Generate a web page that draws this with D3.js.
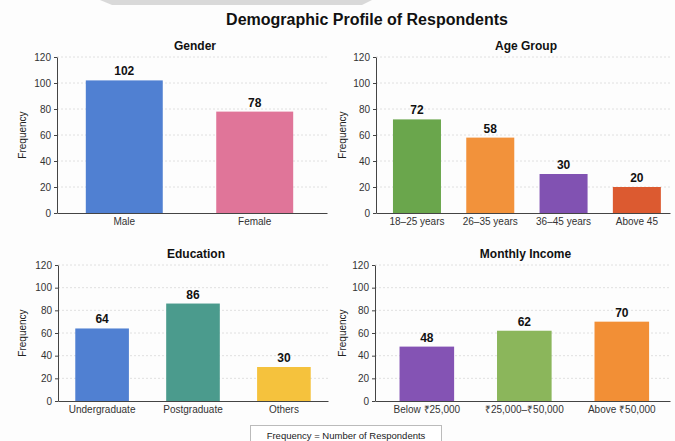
<!DOCTYPE html>
<html>
<head>
<meta charset="utf-8">
<script src="https://cdn.jsdelivr.net/npm/d3@7"></script>
<style>
  body { margin: 0; background: #fdfdfd; }
  svg { display: block; font-family: "Liberation Sans", Arial, sans-serif; }
  .grid line { stroke: #e0e0e0; stroke-dasharray: 2,2; }
  .axis path, .axis line { stroke: #444; }
  .axis text { fill: #333; }
</style>
</head>
<body>
<div id="chart"></div>
<script>
// data
var yTicks = [0, 20, 40, 60, 80, 100, 120];

var genderCats = ["Male", "Female"];
var genderVals = [102, 78];

var ageCats = ["18\u201325 years", "26\u201335 years", "36\u201345 years", "Above 45"];
var ageVals = [72, 58, 30, 20];

var eduCats = ["Undergraduate", "Postgraduate", "Others"];
var eduVals = [64, 86, 30];

var incomeCats = ["Below \u20b925,000", "\u20b925,000\u2013\u20b950,000", "Above \u20b950,000"];
var incomeVals = [48, 62, 70];

var W = 675, H = 441;

var svg = d3.select("#chart").append("svg")
	.attr("width", W)
	.attr("height", H);

svg.append("rect").attr("width", W).attr("height", H).attr("fill", "#fdfdfd");

// faint banner at the very top
svg.append("path")
	.attr("d", "M100,0 L372,0 L362,5 L112,5 Z")
	.attr("fill", "#d9d9d9");

svg.append("text")
	.attr("x", 367)
	.attr("y", 25)
	.attr("text-anchor", "middle")
	.style("font-size", "16px")
	.style("font-weight", "bold")
	.attr("fill", "#111")
	.text("Demographic Profile of Respondents");

var panels = [
	{ title: "Gender", cats: genderCats, vals: genderVals,
	  colors: ["#5080d2", "#e07599"],
	  x0: 57, x1: 327, y0: 213, y1: 57, pi: 0.41, po: 0.24, align: 0.46, labX: 22 },
	{ title: "Age Group", cats: ageCats, vals: ageVals,
	  colors: ["#6aa64c", "#f2923b", "#8152b2", "#dc5a30"],
	  x0: 376, x1: 670, y0: 213, y1: 57, pi: 0.345, po: 0.178, align: 0.65, labX: 342 },
	{ title: "Education", cats: eduCats, vals: eduVals,
	  colors: ["#5080d2", "#4b9b8d", "#f5c23d"],
	  x0: 58, x1: 328, y0: 401, y1: 265, pi: 0.41, po: 0.19, align: 0.5, labX: 22 },
	{ title: "Monthly Income", cats: incomeCats, vals: incomeVals,
	  colors: ["#8453b4", "#8bb65b", "#f28f36"],
	  x0: 375, x1: 670, y0: 401, y1: 265, pi: 0.44, po: 0.233, align: 0.54, labX: 342 }
];

panels.forEach(function(p) {
	var x = d3.scaleBand()
		.domain(p.cats)
		.range([p.x0, p.x1])
		.paddingInner(p.pi)
		.paddingOuter(p.po)
		.align(p.align);
	var y = d3.scaleLinear()
		.domain([0, 120])
		.range([p.y0, p.y1]);

	var g = svg.append("g");

	// gridlines
	g.append("g")
		.attr("class", "grid")
		.selectAll("line")
		.data(yTicks.slice(1))
		.enter().append("line")
		.attr("x1", p.x0)
		.attr("x2", p.x1)
		.attr("y1", function(d) { return y(d); })
		.attr("y2", function(d) { return y(d); });

	g.selectAll(".bar")
		.data(p.vals)
		.enter().append("rect")
		.attr("class", "bar")
		.attr("x", function(d, i) { return x(p.cats[i]); })
		.attr("width", x.bandwidth())
		.attr("y", function(d) { return y(d); })
		.attr("height", function(d) { return y(0) - y(d); })
		.attr("fill", function(d, i) { return p.colors[i]; });

	g.selectAll(".val")
		.data(p.vals)
		.enter().append("text")
		.attr("class", "val")
		.attr("x", function(d, i) { return x(p.cats[i]) + x.bandwidth() / 2; })
		.attr("y", function(d) { return y(d) - 5; })
		.attr("text-anchor", "middle")
		.style("font-size", "12px")
		.style("font-weight", "bold")
		.attr("fill", "#111")
		.text(function(d) { return d; });

	var yAxis = g.append("g")
		.attr("class", "axis")
		.attr("transform", "translate(" + p.x0 + ",0)")
		.call(d3.axisLeft(y).tickValues(yTicks).tickSize(3).tickSizeOuter(0));
	yAxis.selectAll("text").style("font-size", "10px");

	var xAxis = g.append("g")
		.attr("class", "axis")
		.attr("transform", "translate(0," + p.y0 + ")")
		.call(d3.axisBottom(x).tickSize(0).tickSizeOuter(0).tickPadding(5));
	xAxis.selectAll("text").style("font-size", "10px").attr("fill", "#222");

	g.append("text")
		.attr("x", (p.x0 + p.x1) / 2 + 3)
		.attr("y", p.y1 - 7)
		.attr("text-anchor", "middle")
		.style("font-size", "12px")
		.style("font-weight", "bold")
		.attr("fill", "#111")
		.text(p.title);

	g.append("text")
		.attr("transform", "translate(" + p.labX + "," + ((p.y0 + p.y1) / 2) + ") rotate(-90)")
		.attr("text-anchor", "middle")
		.attr("dy", "0.35em")
		.style("font-size", "10px")
		.attr("fill", "#222")
		.text("Frequency");
});

// note box at bottom
svg.append("rect")
	.attr("x", 250.5)
	.attr("y", 425.5)
	.attr("width", 191)
	.attr("height", 20)
	.attr("fill", "#fff")
	.attr("stroke", "#bbb");

svg.append("text")
	.attr("x", 346)
	.attr("y", 439)
	.attr("text-anchor", "middle")
	.style("font-size", "9.5px")
	.attr("fill", "#222")
	.text("Frequency = Number of Respondents");
</script>
</body>
</html>
